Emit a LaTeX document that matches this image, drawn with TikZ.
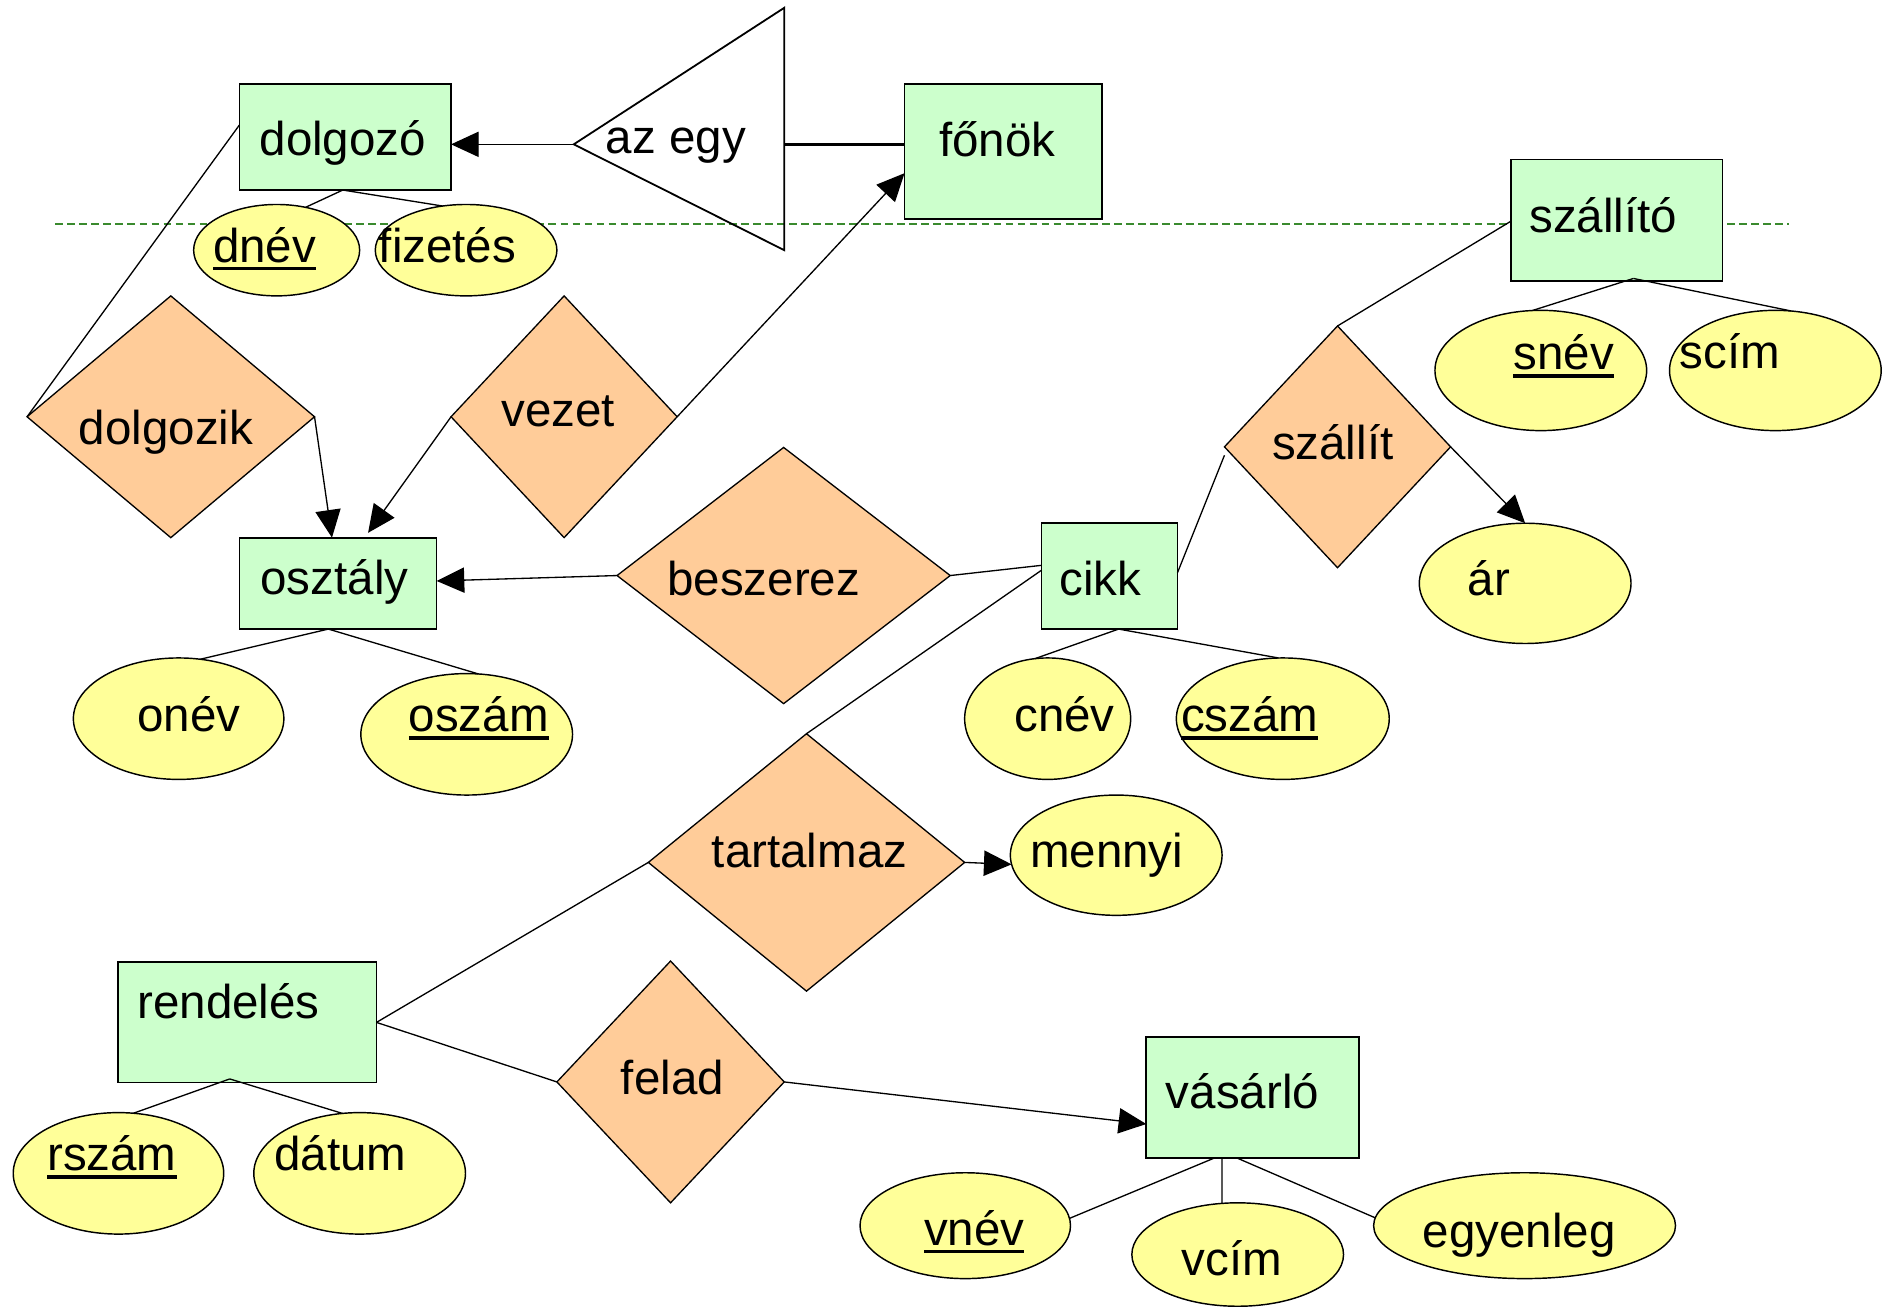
\documentclass[tikz,border=0pt]{standalone}
\usepackage{fontspec}
\setmainfont{Liberation Sans}
\usetikzlibrary{shapes.geometric,arrows.meta,calc}
\definecolor{entfill}{HTML}{CCFFCC}
\definecolor{relfill}{HTML}{FFCC99}
\definecolor{attfill}{HTML}{FFFF99}
\definecolor{sepgreen}{HTML}{3A8A2E}
\newcommand\ulkey[1]{\setbox0\hbox{#1}\rlap{\smash{\rule[-6.5pt]{\wd0}{3pt}}}\box0}
\begin{document}
\begin{tikzpicture}[x=1pt,y=-1pt,
 every node/.style={inner sep=0pt, outer sep=0pt},
 entity/.style={draw, line width=1.4pt, fill=entfill, rectangle},
 rel/.style={draw, line width=1.1pt, fill=relfill, diamond},
 attr/.style={draw, line width=1.2pt, fill=attfill, ellipse},
 lbl/.style={font=\fontsize{39.5pt}{47pt}\selectfont, anchor=center},
 conn/.style={line width=1.1pt},
 arr/.style={line width=1.1pt, -{Triangle[length=23pt,width=21pt]}},
]
\useasboundingbox (0,0) rectangle (1568,1086);
% separator
\draw[sepgreen, line width=2pt, dash pattern=on 6.5pt off 3.5pt] (46,186) -- (1487,186);

% triangle (az egy)
\coordinate (azapex) at (477,120);
\coordinate (aztop) at (652,6.5);
\coordinate (azbot) at (652,208);
\coordinate (azright) at (652,120);
\draw[line width=1.5pt] (azapex) -- (aztop) -- (azbot) -- cycle;
\node[lbl] (azegy) at (562,121.5) {az egy};

% entities
\node[entity, minimum width=176pt, minimum height=88pt] (dolgozo) at (287,114) {};
\node[entity, minimum width=164pt, minimum height=112pt] (fonok) at (834,126) {};
\node[entity, minimum width=176pt, minimum height=101pt] (szallito) at (1344,183) {};
\node[entity, minimum width=164pt, minimum height=76pt] (osztaly) at (281,485) {};
\node[entity, minimum width=113pt, minimum height=88pt] (cikk) at (922.5,479) {};
\node[entity, minimum width=215pt, minimum height=100pt] (rendeles) at (205.5,850) {};
\node[entity, minimum width=177pt, minimum height=101pt] (vasarlo) at (1041.5,912.5) {};

% relationships
\node[rel, minimum width=239pt, minimum height=201pt] (dolgozik) at (142,346.5) {};
\node[rel, minimum width=188pt, minimum height=201pt] (vezet) at (469,346.5) {};
\node[rel, minimum width=277pt, minimum height=213pt] (beszerez) at (651.5,478.5) {};
\node[rel, minimum width=188pt, minimum height=201pt] (szallit) at (1112,371.5) {};
\node[rel, minimum width=263pt, minimum height=214pt] (tartalmaz) at (670.5,717) {};
\node[rel, minimum width=189pt, minimum height=201pt] (felad) at (557.5,899.5) {};

% attributes
\node[attr, minimum width=138pt, minimum height=76pt] (dnev) at (230,208) {};
\node[attr, minimum width=151pt, minimum height=76pt] (fizetes) at (387.5,208) {};
\node[attr, minimum width=176pt, minimum height=100pt] (snev) at (1281,308) {};
\node[attr, minimum width=176pt, minimum height=100pt] (scim) at (1476,308) {};
\node[attr, minimum width=176pt, minimum height=100pt] (ar) at (1268,485) {};
\node[attr, minimum width=175pt, minimum height=101pt] (onev) at (148.5,597.5) {};
\node[attr, minimum width=176pt, minimum height=101pt] (oszam) at (388,610.5) {};
\node[attr, minimum width=138pt, minimum height=101pt] (cnev) at (871,597.5) {};
\node[attr, minimum width=177pt, minimum height=101pt] (cszam) at (1066.5,597.5) {};
\node[attr, minimum width=176pt, minimum height=100pt] (mennyi) at (928,711) {};
\node[attr, minimum width=175pt, minimum height=101pt] (rszam) at (98.5,975.5) {};
\node[attr, minimum width=176pt, minimum height=101pt] (datum) at (299,975.5) {};
\node[attr, minimum width=175pt, minimum height=88pt] (vnev) at (802.5,1019) {};
\node[attr, minimum width=176pt, minimum height=86pt] (vcim) at (1029,1043) {};
\node[attr, minimum width=251pt, minimum height=88pt] (egyenleg) at (1267.5,1019) {};

% labels
\node[lbl] at (285,119) {dolgozó};
\node[lbl] at (829,116) {főnök};
\node[lbl] at (1333,179) {szállító};
\node[lbl] at (278,484) {osztály};
\node[lbl] at (915,481) {cikk};
\node[lbl] at (190,832) {rendelés};
\node[lbl] at (1033,907) {vásárló};
\node[lbl] at (138,359) {dolgozik};
\node[lbl] at (464,342) {vezet};
\node[lbl] at (635,481) {beszerez};
\node[lbl] at (1108,368) {szállít};
\node[lbl] at (673,707) {tartalmaz};
\node[lbl] at (559,896) {felad};
\node[lbl] at (220,204) {\ulkey{dnév}};
\node[lbl] at (372,204) {fizetés};
\node[lbl] at (1300,293) {\ulkey{snév}};
\node[lbl] at (1438,292) {scím};
\node[lbl] at (1238,481) {ár};
\node[lbl] at (157,594) {onév};
\node[lbl] at (398,594) {\ulkey{oszám}};
\node[lbl] at (885,594) {cnév};
\node[lbl] at (1039,594) {\ulkey{cszám}};
\node[lbl] at (920,711) {mennyi};
\node[lbl] at (93,959) {\ulkey{rszám}};
\node[lbl] at (283,959) {dátum};
\node[lbl] at (810,1021) {\ulkey{vnév}};
\node[lbl] at (1024,1046) {vcím};
\node[lbl] at (1263,1027) {egyenleg};

% connectors
\draw[arr] (azapex) -- ($(dolgozo.east)+(0,6)$);
\draw[line width=2.2pt] (azright) -- ($(fonok.west)+(0,-6)$);
\draw[conn] ($(dolgozo.south)+(-2,0)$) -- (dnev.56);
\draw[conn] ($(dolgozo.south)+(-2,0)$) -- (fizetes.118);
\draw[conn] ($(dolgozo.west)+(0,-10)$) -- (dolgozik.west);
\draw[arr] (dolgozik.east) -- ($(osztaly.north)+(-5,0)$);
\draw[arr] (vezet.west) -- ($(osztaly.north)+(25,-4)$);
\draw[arr] (vezet.east) -- ($(fonok.west)+(0,18)$);
\draw[arr] (beszerez.west) -- ($(osztaly.east)+(0,-2)$);
\draw[conn] (beszerez.east) -- ($(cikk.west)+(0,-9)$);
\draw[conn] ($(cikk.west)+(0,-5)$) -- (tartalmaz.north);
\draw[conn] ($(cikk.east)+(0,-3)$) -- ($(szallit.west)+(0,7)$);
\draw[conn] (szallit.north) -- ($(szallito.west)+(0,1)$);
\draw[arr] (szallit.east) -- (ar.north);
\draw[conn] ($(szallito.south)+(14,-2)$) -- (snev.98);
\draw[conn] ($(szallito.south)+(14,-2)$) -- (scim.75);
\draw[conn] ($(osztaly.south)+(-8,0)$) -- (onev.70);
\draw[conn] ($(osztaly.south)+(-8,0)$) -- (oszam.79);
\draw[conn] ($(cikk.south)+(7.5,0)$) -- (cnev.102);
\draw[conn] ($(cikk.south)+(7.5,0)$) -- (cszam.94);
\draw[arr] (tartalmaz.east) -- (mennyi.185);
\draw[conn] (tartalmaz.west) -- (rendeles.east);
\draw[conn] (rendeles.east) -- (felad.west);
\draw[arr] (felad.east) -- ($(vasarlo.west)+(0,22)$);
\draw[conn] ($(rendeles.south)+(-14.5,-3)$) -- (rszam.76);
\draw[conn] ($(rendeles.south)+(-14.5,-3)$) -- (datum.106);
\draw[conn] ($(vasarlo.south)+(-32.5,0)$) -- (vnev.4);
\draw[conn] ($(vasarlo.south)+(-25.5,0)$) -- (vcim.107);
\draw[conn] ($(vasarlo.south)+(-12.5,0)$) -- (egyenleg.177);
\end{tikzpicture}
\end{document}
